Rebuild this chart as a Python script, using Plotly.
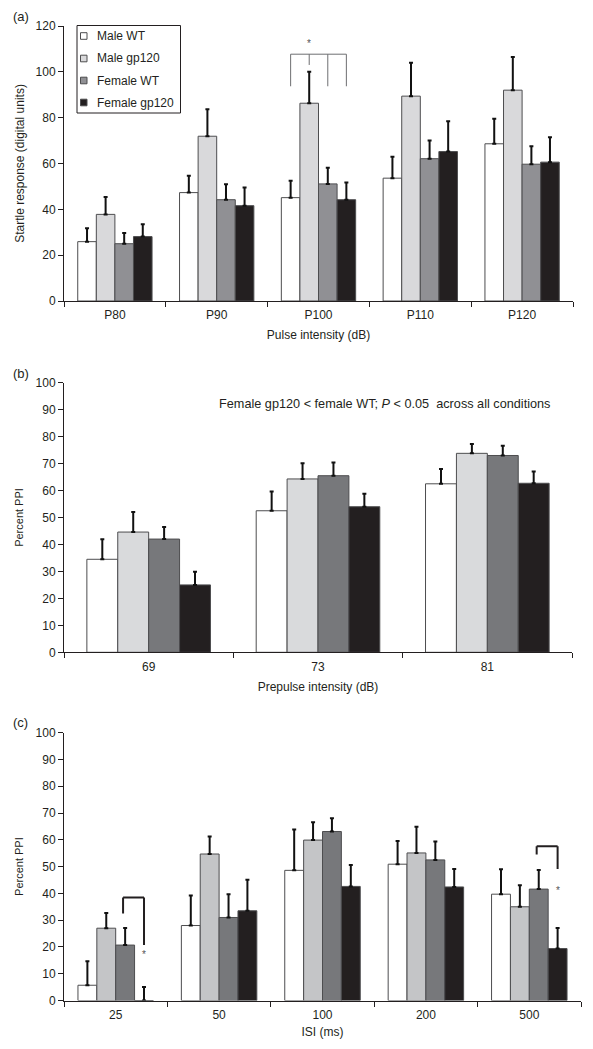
import plotly.graph_objects as go

W, H = 593, 1049          # browser window
OFF = 8                   # default page body margin
FW, FH = W - 2 * OFF, H - 2 * OFF

series = ["Male WT", "Male gp120", "Female WT", "Female gp120"]

# Panel (a): startle response
a_cats = ["P80", "P90", "P100", "P110", "P120"]
a_mean = [
    [25.9, 47.3, 45.1, 53.6, 68.6],
    [37.8, 71.9, 86.3, 89.4, 92.0],
    [25.0, 44.2, 51.1, 62.1, 59.7],
    [28.1, 41.6, 44.2, 65.2, 60.6],
]
a_sem = [
    [5.8, 7.4, 7.4, 9.3, 10.9],
    [7.6, 11.8, 13.7, 14.6, 14.5],
    [4.7, 6.8, 7.1, 7.9, 7.8],
    [5.4, 7.9, 7.5, 13.2, 10.9],
]

# Panel (b): percent PPI by prepulse intensity
b_cats = ["69", "73", "81"]
b_mean = [
    [34.5, 52.5, 62.5],
    [44.6, 64.3, 73.8],
    [42.0, 65.5, 73.0],
    [25.0, 54.0, 62.7],
]
b_sem = [
    [7.4, 7.1, 5.5],
    [7.4, 5.8, 3.5],
    [4.5, 4.9, 3.6],
    [4.9, 4.8, 4.4],
]

# Panel (c): percent PPI by ISI
c_cats = ["25", "50", "100", "200", "500"]
c_mean = [
    [5.7, 28.0, 48.6, 50.9, 39.7],
    [27.0, 54.7, 59.9, 55.1, 35.0],
    [20.7, 31.0, 63.1, 52.5, 41.6],
    [0.0, 33.5, 42.6, 42.4, 19.4],
]
c_sem = [
    [9.0, 11.2, 15.3, 8.7, 9.3],
    [5.7, 6.5, 6.7, 9.8, 8.0],
    [6.4, 8.7, 5.0, 6.9, 7.1],
    [5.0, 11.6, 8.0, 6.7, 7.7],
]

colors_a = ["#ffffff", "#d9d9db", "#909094", "#231f20"]
colors_b = ["#ffffff", "#d9dadc", "#77787b", "#231f20"]
colors_c = ["#ffffff", "#c4c5c7", "#77787b", "#231f20"]

FONT = "Liberation Sans, Arial, Helvetica, sans-serif"
TXT = "#231f20"
EDGE = "#4d4d4f"
BARGAP = 0.27
BW = (1 - BARGAP) / 4


def px_x(p):
    return (p - OFF) / FW


def px_y(p):
    return 1 - (p - OFF) / FH


fig = go.Figure()

panels = [
    ("x", "y", a_cats, a_mean, a_sem, colors_a),
    ("x2", "y2", b_cats, b_mean, b_sem, colors_b),
    ("x3", "y3", c_cats, c_mean, c_sem, colors_c),
]
for xa, ya, cats, means, sems, cols in panels:
    for k in range(4):
        fig.add_trace(go.Bar(
            x=cats, y=means[k], name=series[k], xaxis=xa, yaxis=ya,
            marker=dict(color=cols[k], line=dict(color=EDGE, width=1)),
            error_y=dict(type="data", array=sems[k], arrayminus=[0] * len(cats),
                         symmetric=False, color="#111", thickness=2, width=2),
            showlegend=False,
        ))


def cx(ci, k):
    return ci + (k - 1.5) * BW


shapes = []
annotations = []

# (a) significance bracket at P100
br_a_top, br_a_low, br_a_mid = 107.7, 93.7, 103.0
ci = a_cats.index("P100")
line_a = dict(color="#6d6e71", width=1)
shapes.append(dict(type="line", xref="x", yref="y", x0=cx(ci, 0), x1=cx(ci, 3),
                   y0=br_a_top, y1=br_a_top, line=line_a))
for k in range(4):
    shapes.append(dict(type="line", xref="x", yref="y", x0=cx(ci, k), x1=cx(ci, k),
                       y0=br_a_top, y1=(br_a_mid if k == 1 else br_a_low), line=line_a))
annotations.append(dict(x=cx(ci, 1), y=br_a_top + 1.2, xref="x", yref="y", text="*",
                        showarrow=False, yanchor="bottom",
                        font=dict(size=10, color="#555555", family=FONT)))

# (c) brackets at 25 and 500
c_brackets = [("25", 38.5, 32.5, 20.7, 17.2), ("500", 57.6, 54.5, 49.1, 41.0)]
line_c = dict(color="#231f20", width=2)
for cat, top, lft, rgt, star in c_brackets:
    ci = c_cats.index(cat)
    x0, x1 = cx(ci, 2) - 0.02, cx(ci, 3)
    shapes.append(dict(type="line", xref="x3", yref="y3", x0=x0, x1=x1, y0=top, y1=top, line=line_c))
    shapes.append(dict(type="line", xref="x3", yref="y3", x0=x0, x1=x0, y0=top, y1=lft, line=line_c))
    shapes.append(dict(type="line", xref="x3", yref="y3", x0=x1, x1=x1, y0=top, y1=rgt, line=line_c))
    annotations.append(dict(x=x1, y=star, xref="x3", yref="y3", text="*", showarrow=False,
                            font=dict(size=10, color="#555555", family=FONT)))

# legend box for panel (a)
shapes.append(dict(type="rect", xref="paper", yref="paper", x0=px_x(77), x1=px_x(180.5),
                   y0=px_y(113), y1=px_y(25.5), line=dict(color="#231f20", width=1),
                   fillcolor="white", layer="above"))
leg_rows = [36, 58.5, 80.5, 102.5]
for k, ypx in enumerate(leg_rows):
    shapes.append(dict(type="rect", xref="paper", yref="paper", x0=px_x(80.5), x1=px_x(87),
                       y0=px_y(ypx + 3.3), y1=px_y(ypx - 3.3),
                       line=dict(color=EDGE, width=1), fillcolor=colors_a[k], layer="above"))
    annotations.append(dict(x=px_x(94.5), y=px_y(ypx), xref="paper", yref="paper",
                            text=series[k], showarrow=False, xanchor="left", yanchor="middle",
                            font=dict(size=12, color=TXT, family=FONT)))

# panel letters
for lab, ypx in [("(a)", 16), ("(b)", 373), ("(c)", 722)]:
    annotations.append(dict(x=px_x(11), y=px_y(ypx), xref="paper", yref="paper", text=lab,
                            showarrow=False, xanchor="left", yanchor="middle",
                            font=dict(size=13, color=TXT, family=FONT)))

annotations.append(dict(
    x=px_x(217), y=px_y(404), xref="paper", yref="paper", xanchor="left", yanchor="middle",
    text="Female gp120 &lt; female WT; <i>P</i> &lt; 0.05&nbsp;&nbsp;across all conditions",
    showarrow=False, font=dict(size=12.7, color=TXT, family=FONT)))

axis_font = dict(size=12, color=TXT, family=FONT)


def xaxis(dom, title, anchor, standoff):
    return dict(domain=dom, anchor=anchor, type="category", showline=True, linecolor="#231f20",
                linewidth=1, ticks="outside", tickson="boundaries", ticklen=5, tickcolor="#231f20",
                tickfont=axis_font, showgrid=False, zeroline=False, automargin=False,
                ticklabelstandoff=3,
                title=dict(text=title, font=axis_font, standoff=standoff))


def yaxis(dom, rng, dtick, title, anchor, tsize, standoff):
    return dict(domain=dom, anchor=anchor, range=rng, dtick=dtick, showline=True, linecolor="#231f20",
                linewidth=1, ticks="outside", ticklen=5, tickcolor="#231f20", tickfont=axis_font,
                showgrid=False, zeroline=False, automargin=False,
                title=dict(text=title, font=dict(size=tsize, color=TXT, family=FONT), standoff=standoff))


fig.update_layout(
    width=FW, height=FH, template="none",
    margin=dict(l=0, r=0, t=0, b=0),
    paper_bgcolor="white", plot_bgcolor="white",
    barmode="group", bargap=BARGAP, bargroupgap=0,
    font=dict(family=FONT, size=12, color=TXT),
    showlegend=False,
    xaxis=xaxis([px_x(64), px_x(573)], "Pulse intensity (dB)", "y", 9),
    yaxis=yaxis([px_y(301), px_y(26)], [0, 120], 20, "Startle response (digital units)", "x", 12, 8),
    xaxis2=xaxis([px_x(64), px_x(572)], "Prepulse intensity (dB)", "y2", 9),
    yaxis2=yaxis([px_y(652.3), px_y(382.7)], [0, 100], 10, "Percent PPI", "x2", 11, 9),
    xaxis3=xaxis([px_x(64), px_x(581)], "ISI (ms)", "y3", 6),
    yaxis3=yaxis([px_y(1000.5), px_y(732.7)], [0, 100], 10, "Percent PPI", "x3", 11, 9),
    shapes=shapes, annotations=annotations,
)

fig.write_html("out.html")
